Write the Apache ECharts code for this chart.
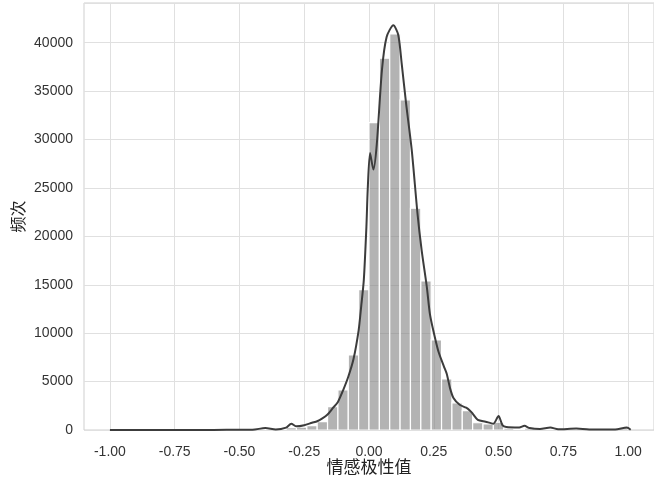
<!DOCTYPE html>
<html>
<head>
<meta charset="utf-8">
<script src="https://cdn.jsdelivr.net/npm/echarts@6/dist/echarts.min.js"></script>
<style>
  html, body { margin: 0; padding: 0; background: #fff; }
  #chart { width: 654px; height: 480px; }
</style>
</head>
<body>
<div id="chart"></div>
<script>
// 直方图：分箱从 -1 开始，每箱宽 0.04，共 50 箱
var binStart = -1;
var binWidth = 0.04;
var binCounts = [
  10, 0, 0, 0, 0, 0, 0, 10, 0, 10,
  10, 20, 40, 30, 60, 100, 60, 250, 300, 450,
  860, 2410, 4130, 7750, 14500, 31750, 38400, 40900, 34100, 22900,
  15400, 9300, 5270, 2800, 2000, 750, 620, 800, 200, 120,
  200, 60, 120, 40, 60, 20, 10, 10, 20, 250
];

// 核密度曲线（按频次刻度读出）
var kdeX = [-1.00, -0.60, -0.50, -0.45, -0.40, -0.36, -0.32, -0.30, -0.28, -0.25,
  -0.22, -0.20, -0.18, -0.16, -0.14, -0.12, -0.10, -0.08, -0.06, -0.04,
  -0.03, -0.02, -0.01, -0.005, 0.004, 0.017, 0.03, 0.05, 0.068, 0.094,
  0.113, 0.126, 0.143, 0.165, 0.187, 0.203, 0.223, 0.235, 0.248, 0.268,
  0.29, 0.30, 0.313, 0.326, 0.35, 0.375, 0.39, 0.40, 0.42, 0.45,
  0.48, 0.50, 0.515, 0.53, 0.58, 0.60, 0.62, 0.66, 0.70, 0.73,
  0.80, 0.85, 0.95, 0.995, 1.01];
var kdeY = [0, 0, 30, 30, 200, 60, 250, 650, 380, 500,
  750, 900, 1200, 1600, 2250, 2900, 4100, 5500, 7300, 10300,
  12800, 15500, 21000, 24800, 28600, 26900, 29500, 37200, 40600, 41800,
  40800, 37900, 33750, 28900, 22400, 18600, 14800, 12000, 10300, 8100,
  6500, 5800, 4300, 3300, 2600, 2300, 2000, 1700, 1050, 860,
  650, 1450, 500, 300, 250, 430, 200, 100, 250, 80,
  150, 50, 50, 250, 30];

var xTicks = [-1.00, -0.75, -0.50, -0.25, 0.00, 0.25, 0.50, 0.75, 1.00];

var histData = binCounts.map(function (c, i) {
  var x0 = binStart + i * binWidth;
  return [x0, x0 + binWidth, c];
});
var kdeData = kdeX.map(function (x, i) { return [x, kdeY[i]]; });

var myChart = echarts.init(document.getElementById('chart'));

myChart.setOption({
  animation: false,
  textStyle: {
    fontFamily: '"Liberation Sans", Arial, "Noto Sans CJK SC", sans-serif'
  },
  grid: {
    left: 84,
    right: 0,
    top: 3,
    bottom: 50,
    outerBoundsMode: 'none',
    show: true,
    backgroundColor: '#fff',
    borderColor: '#cfcfcf',
    borderWidth: 1
  },
  xAxis: {
    type: 'value',
    min: -1.1,
    max: 1.1,
    name: '情感极性值',
    nameLocation: 'middle',
    nameGap: 28,
    nameMoveOverlap: false,
    nameTextStyle: {
      fontSize: 17,
      color: '#222',
      fontFamily: '"Noto Sans CJK SC", sans-serif'
    },
    axisLine: { show: false },
    axisTick: { show: false, customValues: xTicks },
    axisLabel: {
      customValues: xTicks,
      margin: 15,
      fontSize: 14,
      color: '#333',
      formatter: function (v) { return v.toFixed(2); }
    },
    splitLine: {
      show: true,
      lineStyle: { color: '#e0e0e0', width: 1 }
    }
  },
  yAxis: {
    type: 'value',
    min: 0,
    max: 44100,
    interval: 5000,
    name: '频次',
    nameLocation: 'middle',
    nameGap: 58,
    nameMoveOverlap: false,
    nameTextStyle: {
      fontSize: 16,
      color: '#222',
      fontFamily: '"Noto Sans CJK SC", sans-serif'
    },
    axisLine: { show: false },
    axisTick: { show: false },
    axisLabel: {
      margin: 11,
      fontSize: 14,
      color: '#333',
      showMaxLabel: false,
      formatter: function (v) { return String(v); }
    },
    splitLine: {
      show: true,
      lineStyle: { color: '#e0e0e0', width: 1 }
    }
  },
  series: [
    {
      name: '频次',
      type: 'custom',
      clip: true,
      encode: { x: [0, 1], y: 2 },
      renderItem: function (params, api) {
        var p0 = api.coord([api.value(0), api.value(2)]);
        var p1 = api.coord([api.value(1), 0]);
        return {
          type: 'rect',
          shape: { x: p0[0], y: p0[1], width: p1[0] - p0[0], height: p1[1] - p0[1] },
          style: { fill: 'rgba(128,128,128,0.6)', stroke: '#fff', lineWidth: 1.2 }
        };
      },
      data: histData,
      z: 2
    },
    {
      name: 'kde',
      type: 'line',
      data: kdeData,
      showSymbol: false,
      smooth: 0.25,
      lineStyle: { color: '#3c3c3c', width: 2 },
      z: 3
    }
  ]
});
</script>
</body>
</html>
